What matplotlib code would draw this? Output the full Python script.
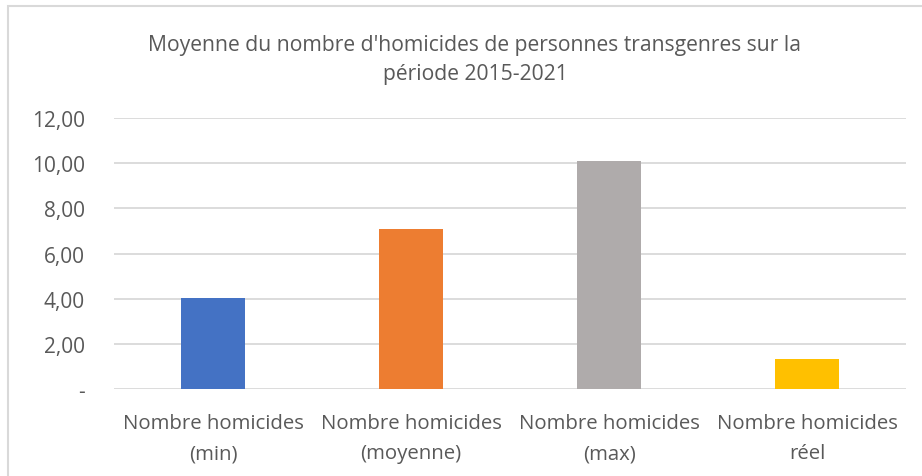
import matplotlib
matplotlib.use("Agg")
from matplotlib import pyplot as plt
from matplotlib.patches import Rectangle
from matplotlib.ticker import FuncFormatter

categories = ["Nombre homicides\n(min)", "Nombre homicides\n(moyenne)",
              "Nombre homicides\n(max)", "Nombre homicides\nréel"]
values = [4.05, 7.08, 10.1, 1.33]
colors = ["#4472C4", "#ED7D31", "#AFABAB", "#FFC000"]
y_ticks = [0, 2, 4, 6, 8, 10, 12]

plt.rcParams['font.family'] = ['Open Sans', 'DejaVu Sans']
text_col = "#595959"

fig = plt.figure(figsize=(9.22, 4.77), dpi=100)
# chart border (light gray frame, cut at right/bottom like the screenshot)
fig.patches.append(Rectangle((8 / 922, -0.05), 1.1, 1 - 7 / 477 + 0.05,
                             transform=fig.transFigure, fill=False,
                             edgecolor="#d9d9d9", linewidth=1.5))

ax = fig.add_axes([114 / 922, 1 - 390 / 477, 792 / 922, 271 / 477])
x = range(len(categories))
ax.bar(x, values, width=0.32, color=colors, zorder=3)
ax.set_xlim(-0.5, 3.5)
ax.set_ylim(0, 12)
ax.set_yticks(y_ticks)
ax.yaxis.set_major_formatter(FuncFormatter(
    lambda v, p: "-" if v == 0 else f"{v:.2f}".replace(".", ",")))
ax.set_xticks(list(x))
ax.set_xticklabels(categories, linespacing=1.7)
ax.tick_params(axis='both', length=0, colors=text_col)
ax.tick_params(axis='y', pad=21, labelsize=15)
ax.tick_params(axis='x', pad=17, labelsize=14.7)
ax.grid(axis='y', color="#d9d9d9", linewidth=1.3, zorder=0)
for s in ax.spines.values():
    s.set_visible(False)

fig.text(475 / 922, 1 - 60 / 477,
         "Moyenne du nombre d'homicides de personnes transgenres sur la\npériode 2015-2021",
         ha='center', va='center', fontsize=15.2, color=text_col, linespacing=1.45)

plt.savefig("out.png", dpi=100)
